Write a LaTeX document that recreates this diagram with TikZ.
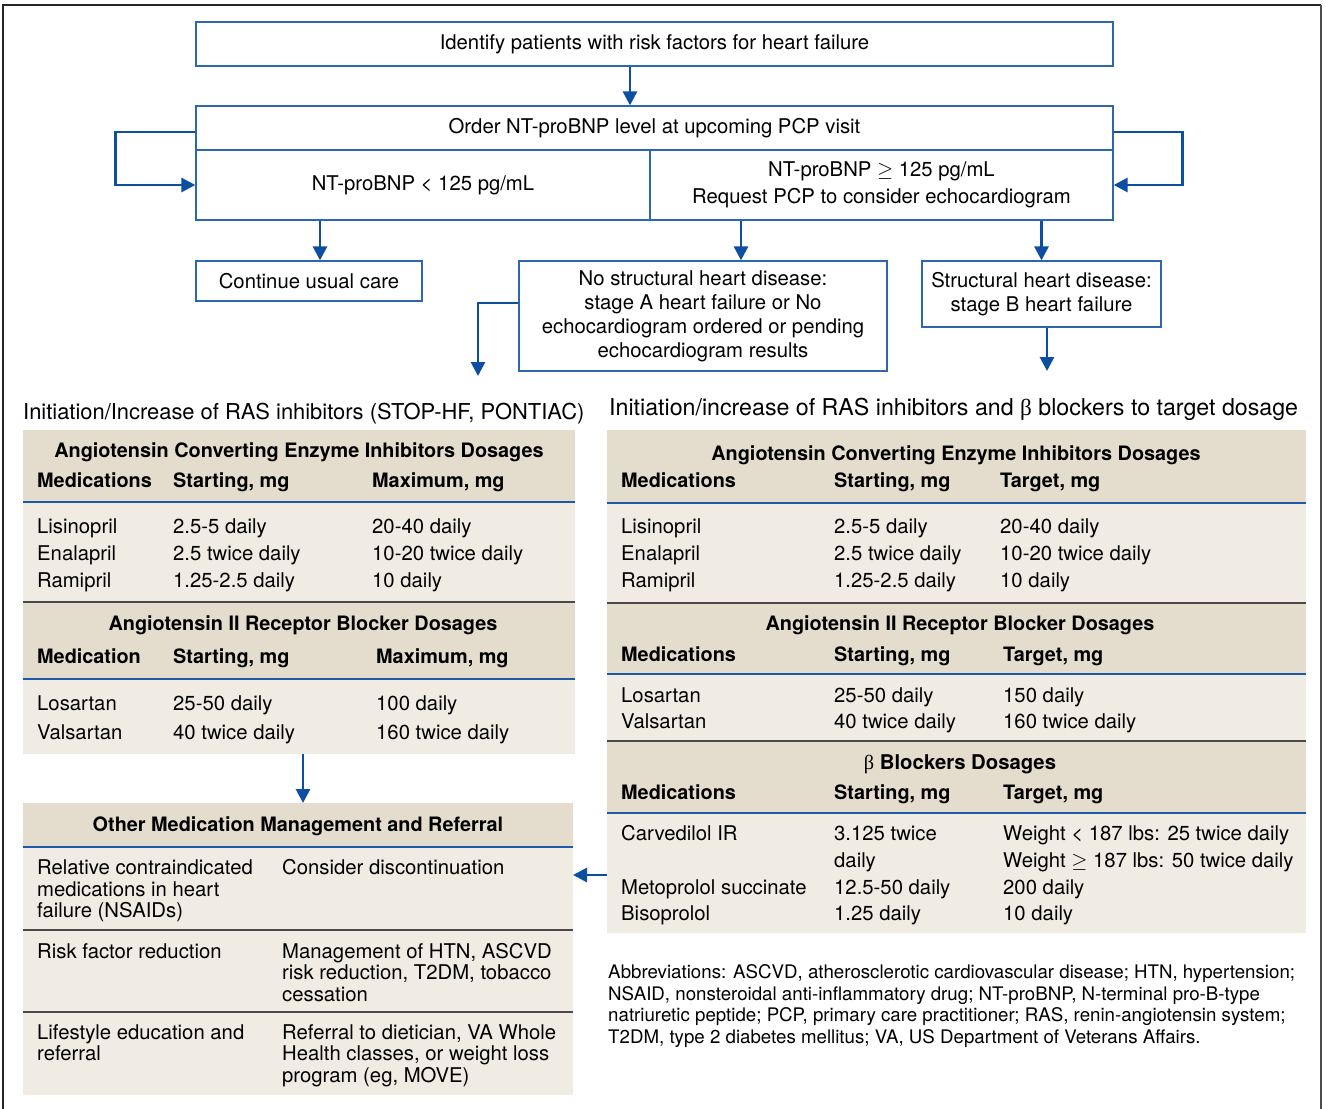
\documentclass[tikz,border=0pt]{standalone}
\usepackage{fontspec}
\setmainfont{TeX Gyre Heros}
\newfontfamily\symf{Liberation Serif}
\usetikzlibrary{arrows.meta}
\definecolor{boxblue}{HTML}{2C68B0}
\definecolor{arrblue}{HTML}{0B4EA2}
\definecolor{hdrbg}{HTML}{E4DDCD}
\definecolor{bodybg}{HTML}{F0ECE3}
\definecolor{rulegray}{HTML}{4A4A4A}
\definecolor{rublue}{HTML}{1F5AA6}
\newcounter{tn}
\newcommand{\tx}[4][]{\stepcounter{tn}\node[tx,#1] (tx\arabic{tn}) at (#2,#3+7) {#4};}
\begin{document}
\begin{tikzpicture}[x=1pt,y=-1pt,
  box/.style={draw=boxblue, line width=1.3pt, inner sep=0pt, align=center, font=\fontsize{20.3}{24}\selectfont},
  conn/.style={draw=arrblue, line width=2.8pt, -{Triangle[length=14pt,width=14pt]}},
  tx/.style={anchor=base west, inner sep=0pt, font=\fontsize{20.3}{24}\selectfont},
  bx/.style={font=\fontsize{19.85}{24}\selectfont\bfseries},
  ctr/.style={anchor=base},
  ab/.style={font=\fontsize{18.7}{21}\selectfont},
  ttl/.style={anchor=base west, inner sep=0pt, font=\fontsize{21.9}{26}\selectfont},
  ttlr/.style={anchor=base west, inner sep=0pt, font=\fontsize{23.2}{26}\selectfont},
  fl/.style={inner sep=0pt, outer sep=0pt, anchor=north west, draw=none},
  brule/.style={draw=rublue, line width=2.6pt},
  drule/.style={draw=rulegray, line width=1.3pt}]
\useasboundingbox (0,0) rectangle (1326,1109);
\fill[white] (0,0) rectangle (1326,1109);
\draw[black!85, line width=1.6pt] (3,1109) -- (3,5) -- (1321,5);
\draw[black!70, line width=2pt] (1321,5) -- (1321,1109);

% flow boxes
\node[box, minimum width=917pt, minimum height=44pt] (identify) at (654.5,44) {Identify patients with risk factors for heart failure};
\node[box, minimum width=917pt, minimum height=44pt] (order) at (654.5,128) {Order NT-proBNP level at upcoming PCP visit};
\node[box, minimum width=454pt, minimum height=70pt] (low) at (423,185) {NT-proBNP < 125 pg/mL};
\node[box, minimum width=463pt, minimum height=70pt] (high) at (881.5,185) {NT-proBNP $\geq$ 125 pg/mL\\[3pt]Request PCP to consider echocardiogram};
\node[box, minimum width=226pt, minimum height=40pt] (usual) at (309,281) {Continue usual care};
\node[box, minimum width=368pt, minimum height=110pt] (nostruct) at (703,316) {No structural heart disease:\\stage A heart failure or No\\echocardiogram ordered or pending\\echocardiogram results};
\node[box, minimum width=239pt, minimum height=66pt] (struct) at (1041.5,294) {Structural heart disease:\\stage B heart failure};

\coordinate (c1) at (630,0);
\coordinate (c2) at (320,0);
\coordinate (c3) at (741,0);
\coordinate (leftgo) at (478,376);
\coordinate (rightgo) at (1047,371);
\draw[conn] (identify.south -| c1) -- (order.north -| c1);
\draw[conn] ([yshift=-4pt]order.west) -- ++(-80,0) |- (low.west);
\draw[conn] ([yshift=-4pt]order.east) -- ++(69,0) |- (high.east);
\draw[conn] (low.south -| c2) -- (usual.north -| c2);
\draw[conn] (high.south -| c3) -- (nostruct.north -| c3);
\draw[conn] (high.south -| struct.north) -- (struct.north);
\draw[conn] ([yshift=13pt]nostruct.west) -| (leftgo);
\draw[conn] (struct.south -| rightgo) -- (rightgo);

% titles
\node[ttl] (ltitle) at (23,419) {Initiation/Increase of RAS inhibitors (STOP-HF, PONTIAC)};
\node[ttlr] (rtitle) at (609,415) {Initiation/increase of RAS inhibitors and {\symf β} blockers to target dosage};

% left table backgrounds
\node[fl, fill=hdrbg, minimum width=552pt, minimum height=72pt] (lacehd) at (23,430) {};
\node[fl, fill=bodybg, minimum width=552pt, minimum height=100pt] (lacebd) at (23,502) {};
\node[fl, fill=hdrbg, minimum width=552pt, minimum height=77pt] (larbhd) at (23,602) {};
\node[fl, fill=bodybg, minimum width=552pt, minimum height=75pt] (larbbd) at (23,679) {};
\draw[brule] (23,502) -- (575,502);
\draw[drule] (23,602) -- (575,602);
\draw[brule] (23,679) -- (575,679);

% other table
\node[fl, fill=hdrbg, minimum width=550pt, minimum height=44pt] (othhd) at (23,803) {};
\node[fl, fill=bodybg, minimum width=550pt, minimum height=248pt] (othbd) at (23,847) {};
\draw[brule] (23,847) -- (573,847);
\draw[drule] (23,930) -- (573,930);
\draw[drule] (23,1012) -- (573,1012);

% right table backgrounds
\node[fl, fill=hdrbg, minimum width=699pt, minimum height=73pt] (racehd) at (607,430) {};
\node[fl, fill=bodybg, minimum width=699pt, minimum height=100pt] (racebd) at (607,503) {};
\node[fl, fill=hdrbg, minimum width=699pt, minimum height=71pt] (rarbhd) at (607,603) {};
\node[fl, fill=bodybg, minimum width=699pt, minimum height=67pt] (rarbbd) at (607,674) {};
\node[fl, fill=hdrbg, minimum width=699pt, minimum height=72pt] (rbbhd) at (607,741) {};
\node[fl, fill=bodybg, minimum width=699pt, minimum height=120pt] (rbbbd) at (607,813) {};
\draw[brule] (607,503) -- (1306,503);
\draw[drule] (607,603) -- (1306,603);
\draw[brule] (607,674) -- (1306,674);
\draw[drule] (607,741) -- (1306,741);
\draw[brule] (607,813) -- (1306,813);

% table connectors
\coordinate (c4) at (303,0);
\coordinate (c5) at (0,875);
\draw[conn] (larbbd.south -| c4) -- (othhd.north -| c4);
\draw[conn] (rbbbd.west |- c5) -- (othbd.east |- c5);

% left ACE
\tx[bx,ctr]{299}{450}{Angiotensin Converting Enzyme Inhibitors Dosages}
\tx[bx]{37}{480}{Medications}
\tx[bx]{173}{480}{Starting, mg}
\tx[bx]{372}{480}{Maximum, mg}
\tx{37}{526}{Lisinopril}
\tx{173}{526}{2.5-5 daily}
\tx{372}{526}{20-40 daily}
\tx{37}{553}{Enalapril}
\tx{173}{553}{2.5 twice daily}
\tx{372}{553}{10-20 twice daily}
\tx{37}{580}{Ramipril}
\tx{173}{580}{1.25-2.5 daily}
\tx{372}{580}{10 daily}
% left ARB
\tx[bx,ctr]{303}{623}{Angiotensin II Receptor Blocker Dosages}
\tx[bx]{37}{656}{Medication}
\tx[bx]{173}{656}{Starting, mg}
\tx[bx]{376}{656}{Maximum, mg}
\tx{37}{703}{Losartan}
\tx{173}{703}{25-50 daily}
\tx{376}{703}{100 daily}
\tx{37}{732}{Valsartan}
\tx{173}{732}{40 twice daily}
\tx{376}{732}{160 twice daily}
% other
\tx[bx,ctr]{298}{824}{Other Medication Management and Referral}
\tx{37}{867}{Relative contraindicated}
\tx{37}{889}{medications in heart}
\tx{37}{910}{failure (NSAIDs)}
\tx{282}{867}{Consider discontinuation}
\tx{37}{951}{Risk factor reduction}
\tx{282}{951}{Management of HTN, ASCVD}
\tx{282}{972}{risk reduction, T2DM, tobacco}
\tx{282}{994}{cessation}
\tx{37}{1032}{Lifestyle education and}
\tx{37}{1053}{referral}
\tx{282}{1032}{Referral to dietician, VA Whole}
\tx{282}{1053}{Health classes, or weight loss}
\tx{282}{1075}{program (eg, MOVE)}
% right ACE
\tx[bx,ctr]{956}{453}{Angiotensin Converting Enzyme Inhibitors Dosages}
\tx[bx]{621}{480}{Medications}
\tx[bx]{834}{480}{Starting, mg}
\tx[bx]{1000}{480}{Target, mg}
\tx{621}{526}{Lisinopril}
\tx{834}{526}{2.5-5 daily}
\tx{1000}{526}{20-40 daily}
\tx{621}{553}{Enalapril}
\tx{834}{553}{2.5 twice daily}
\tx{1000}{553}{10-20 twice daily}
\tx{621}{580}{Ramipril}
\tx{834}{580}{1.25-2.5 daily}
\tx{1000}{580}{10 daily}
% right ARB
\tx[bx,ctr]{960}{623}{Angiotensin II Receptor Blocker Dosages}
\tx[bx]{621}{654}{Medications}
\tx[bx]{834}{654}{Starting, mg}
\tx[bx]{1003}{654}{Target, mg}
\tx{621}{695}{Losartan}
\tx{834}{695}{25-50 daily}
\tx{1003}{695}{150 daily}
\tx{621}{721}{Valsartan}
\tx{834}{721}{40 twice daily}
\tx{1003}{721}{160 twice daily}
% beta blockers
\tx[ctr]{960}{762}{{\symf β} \bfseries Blockers Dosages}
\tx[bx]{621}{792}{Medications}
\tx[bx]{834}{792}{Starting, mg}
\tx[bx]{1003}{792}{Target, mg}
\tx{621}{833}{Carvedilol IR}
\tx{834}{833}{3.125 twice}
\tx{1003}{833}{Weight < 187 lbs: 25 twice daily}
\tx{834}{860}{daily}
\tx{1003}{860}{Weight $\geq$ 187 lbs: 50 twice daily}
\tx{621}{887}{Metoprolol succinate}
\tx{834}{887}{12.5-50 daily}
\tx{1003}{887}{200 daily}
\tx{621}{913}{Bisoprolol}
\tx{834}{913}{1.25 daily}
\tx{1003}{913}{10 daily}
% abbreviations
\tx[ab]{608}{971}{Abbreviations: ASCVD, atherosclerotic cardiovascular disease; HTN, hypertension;}
\tx[ab]{608}{993}{NSAID, nonsteroidal anti-inflammatory drug; NT-proBNP, N-terminal pro-B-type}
\tx[ab]{608}{1014}{natriuretic peptide; PCP, primary care practitioner; RAS, renin-angiotensin system;}
\tx[ab]{608}{1036}{T2DM, type 2 diabetes mellitus; VA, US Department of Veterans Affairs.}
\end{tikzpicture}
\end{document}
